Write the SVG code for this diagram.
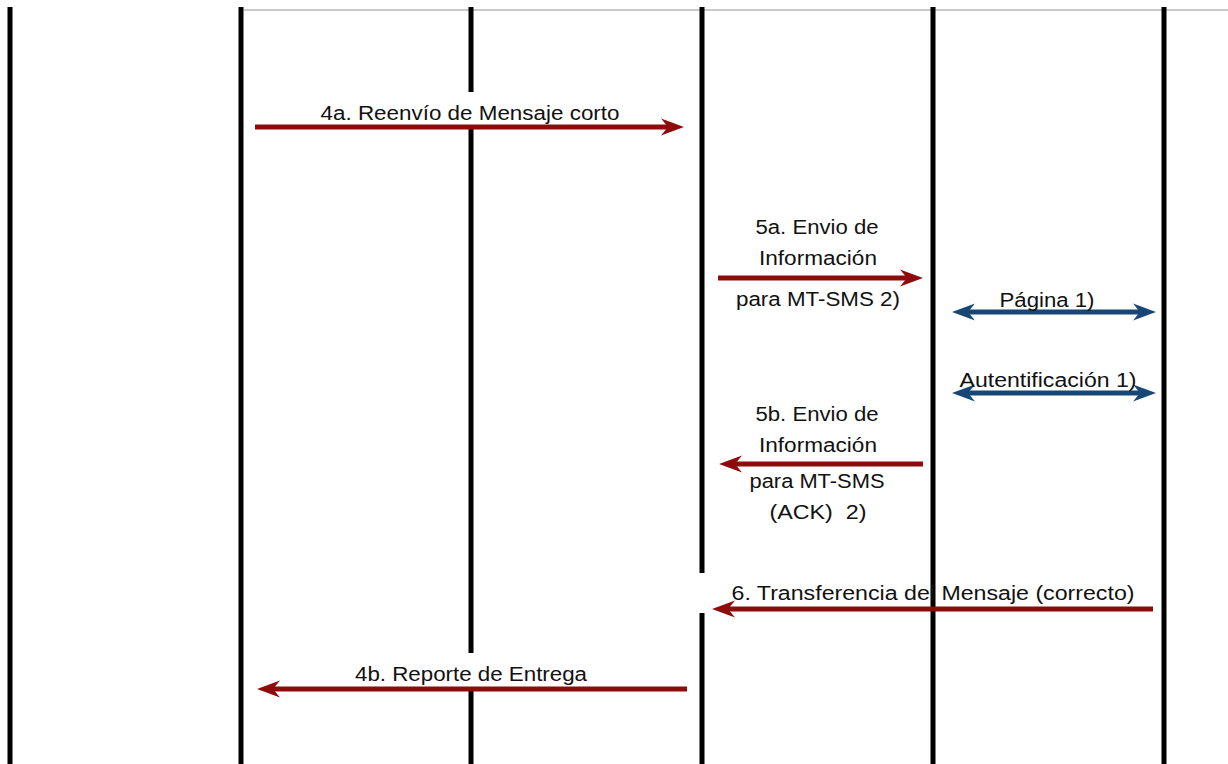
<svg xmlns="http://www.w3.org/2000/svg" width="1228" height="764" viewBox="0 0 1228 764">
<defs>
<style>
.life{stroke:#000;stroke-width:5;fill:none}
.red{stroke:#8e0b0b;stroke-width:5;fill:none}
.blue{stroke:#174677;stroke-width:5;fill:none}
text{font-family:"Liberation Sans",Arial,sans-serif;font-size:20px;fill:#111;text-anchor:middle}
</style>
<marker id="ar" markerUnits="userSpaceOnUse" viewBox="0 0 26 20" refX="16" refY="10" markerWidth="26" markerHeight="20" orient="auto-start-reverse">
<path d="M26,10 L3,1.5 L10,10 L3,18.5 Z" fill="#8e0b0b"/>
</marker>
<marker id="ab" markerUnits="userSpaceOnUse" viewBox="0 0 26 20" refX="16" refY="10" markerWidth="26" markerHeight="20" orient="auto-start-reverse">
<path d="M26,10 L3,1.5 L10,10 L3,18.5 Z" fill="#174677"/>
</marker>
</defs>
<rect width="1228" height="764" fill="#fff"/>
<line x1="244" y1="10" x2="1228" y2="10" stroke="#c8c8c8" stroke-width="2"/>
<g id="lifelines">
<line id="l1" class="life" x1="10" y1="7" x2="10" y2="764"/>
<line id="l2" class="life" x1="241" y1="7" x2="241" y2="764"/>
<path id="l3" class="life" d="M471,7 V92 M471,127 V653 M471,690 V764"/>
<path id="l4" class="life" d="M702,7 V573 M702,613 V764"/>
<line id="l5" class="life" x1="933" y1="7" x2="933" y2="764"/>
<line id="l6" class="life" x1="1164" y1="7" x2="1164" y2="764"/>
</g>
<g id="connectors">
<line class="red" x1="255" y1="127" x2="674" y2="127" marker-end="url(#ar)"/>
<line class="red" x1="718" y1="278" x2="913" y2="278" marker-end="url(#ar)"/>
<line class="blue" x1="962" y1="312" x2="1146" y2="312" marker-start="url(#ab)" marker-end="url(#ab)"/>
<line class="blue" x1="962" y1="393" x2="1146" y2="393" marker-start="url(#ab)" marker-end="url(#ab)"/>
<line class="red" x1="923" y1="464" x2="729" y2="464" marker-end="url(#ar)"/>
<line class="red" x1="1153" y1="609" x2="722" y2="609" marker-end="url(#ar)"/>
<line class="red" x1="687" y1="689" x2="267" y2="689" marker-end="url(#ar)"/>
</g>
<g id="labels">
<text x="470" y="120" textLength="299" lengthAdjust="spacingAndGlyphs">4a. Reenvío de Mensaje corto</text>
<text x="817" y="234" textLength="123" lengthAdjust="spacingAndGlyphs">5a. Envio de</text>
<text x="818" y="265" textLength="118" lengthAdjust="spacingAndGlyphs">Información</text>
<text x="818" y="306" textLength="164" lengthAdjust="spacingAndGlyphs">para MT-SMS 2)</text>
<text x="1047" y="307" textLength="95" lengthAdjust="spacingAndGlyphs">Página 1)</text>
<text x="1048" y="387" textLength="177" lengthAdjust="spacingAndGlyphs">Autentificación 1)</text>
<text x="817" y="421" textLength="123" lengthAdjust="spacingAndGlyphs">5b. Envio de</text>
<text x="818" y="452" textLength="118" lengthAdjust="spacingAndGlyphs">Información</text>
<text x="817" y="488" textLength="135" lengthAdjust="spacingAndGlyphs">para MT-SMS</text>
<text x="818" y="519" textLength="97" lengthAdjust="spacingAndGlyphs" xml:space="preserve">(ACK)  2)</text>
<text x="933" y="600" textLength="403" lengthAdjust="spacingAndGlyphs">6. Transferencia del Mensaje (correcto)</text>
<text x="471" y="681" textLength="232" lengthAdjust="spacingAndGlyphs">4b. Reporte de Entrega</text>
</g>
</svg>
